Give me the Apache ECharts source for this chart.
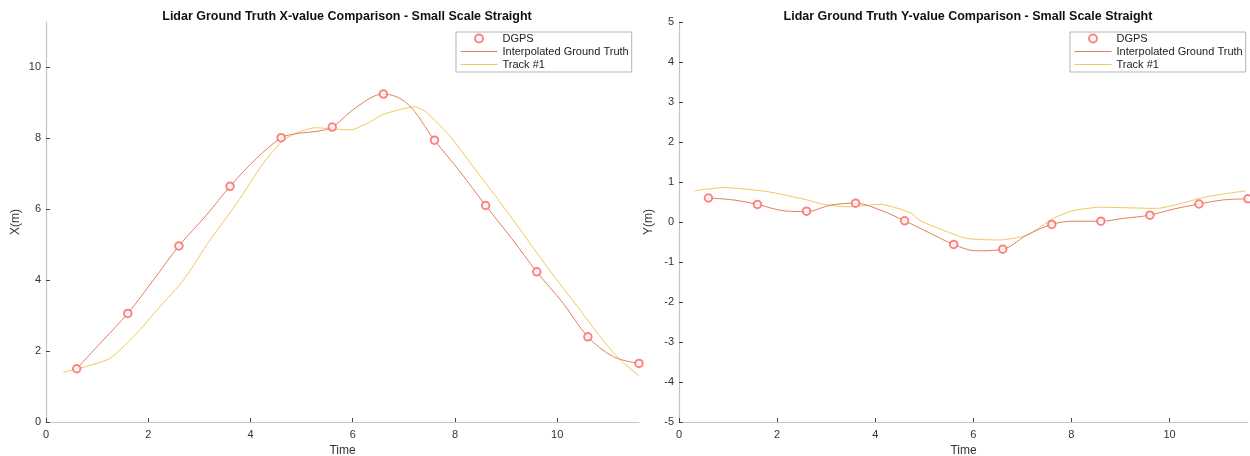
<!DOCTYPE html>
<html>
<head>
<meta charset="utf-8">
<script src="https://cdn.jsdelivr.net/npm/echarts@6/dist/echarts.min.js"></script>
<style>
html,body{margin:0;padding:0;background:#fff;}
#c{width:1250px;height:456px;}
</style>
</head>
<body>
<div id="c"></div>
<script>
// ---- data ----
const titleX = 'Lidar Ground Truth X-value Comparison - Small Scale Straight';
const titleY = 'Lidar Ground Truth Y-value Comparison - Small Scale Straight';
const seriesNames = ['DGPS', 'Interpolated Ground Truth', 'Track #1'];

const dgpsTime = [0.6, 1.6, 2.6, 3.6, 4.6, 5.6, 6.6, 7.6, 8.6, 9.6, 10.6, 11.6];
const dgpsX = [1.50, 3.06, 4.96, 6.64, 8.01, 8.31, 9.24, 7.94, 6.10, 4.23, 2.40, 1.65];
const dgpsY = [0.60, 0.44, 0.27, 0.47, 0.03, -0.56, -0.68, -0.06, 0.02, 0.17, 0.45, 0.58];

const interpXTime = [0.6, 1.12, 1.6, 2.1, 2.6, 3.14, 3.6, 4.12, 4.6, 4.8, 4.97, 5.3, 5.6, 6.08, 6.6, 7.06, 7.6, 8.1, 8.6, 9.11, 9.6, 10.12, 10.6, 11.1, 11.6];
const interpXVal  = [1.50, 2.31, 3.06, 4.0, 4.96, 5.83, 6.64, 7.43, 8.01, 8.10, 8.14, 8.19, 8.31, 8.88, 9.24, 8.98, 7.94, 7.05, 6.10, 5.17, 4.23, 3.34, 2.40, 1.84, 1.65];

const interpYTime = [0.6, 1.12, 1.6, 2.14, 2.6, 3.09, 3.6, 4.1, 4.6, 5.12, 5.6, 6.07, 6.6, 7.09, 7.6, 8.03, 8.6, 9.05, 9.6, 10.07, 10.6, 11.08, 11.6];
const interpYVal  = [0.60, 0.55, 0.44, 0.28, 0.26, 0.42, 0.47, 0.30, 0.03, -0.28, -0.56, -0.72, -0.68, -0.33, -0.06, 0.02, 0.02, 0.09, 0.17, 0.32, 0.45, 0.55, 0.58];

const trackXTime = [0.34, 0.8, 1.25, 1.71, 2.23, 2.69, 3.21, 3.73, 4.25, 4.64, 4.97, 5.26, 5.95, 6.28, 6.60, 7.22, 7.45, 7.91, 8.36, 8.88, 9.28, 9.80, 10.45, 10.84, 11.23, 11.6];
const trackXVal  = [1.40, 1.57, 1.79, 2.40, 3.25, 4.0, 5.13, 6.16, 7.29, 7.94, 8.18, 8.29, 8.23, 8.41, 8.67, 8.88, 8.72, 8.04, 7.19, 6.20, 5.41, 4.37, 3.15, 2.40, 1.75, 1.30];

const trackYTime = [0.31, 0.92, 1.80, 2.62, 2.95, 3.43, 4.11, 4.72, 4.92, 5.33, 5.87, 6.54, 7.09, 7.63, 8.03, 8.58, 9.73, 10.75, 11.56];
const trackYVal  = [0.78, 0.86, 0.76, 0.55, 0.44, 0.38, 0.44, 0.23, 0.03, -0.18, -0.41, -0.45, -0.33, 0.09, 0.28, 0.37, 0.34, 0.63, 0.78];

const timeTicks = [0, 2, 4, 6, 8, 10];
const xValTicks = [0, 2, 4, 6, 8, 10];
const yValTicks = [-5, -4, -3, -2, -1, 0, 1, 2, 3, 4, 5];

// ---- build ----
const zip = (a, b) => a.map((v, i) => [v, b[i]]);
const FONT = 'Liberation Sans, Arial, sans-serif';
const C_DGPS = '#ff6464', C_INT = '#e2805c', C_TRK = '#f3c660';
const HIDE = {color: 'rgba(0,0,0,0)', borderColor: 'rgba(0,0,0,0)', borderWidth: 0, opacity: 0};

function xAxis(gi) {
  return {
    type: 'value', gridIndex: gi, min: 0, max: 11.6,
    name: 'Time', nameLocation: 'middle', nameGap: 21,
    nameTextStyle: {fontFamily: FONT, fontSize: 12, color: '#333'},
    axisLine: {onZero: false, lineStyle: {color: '#c4c4c4', width: 1.2}},
    axisTick: {inside: true, length: 4, lineStyle: {color: '#444'}, customValues: timeTicks},
    axisLabel: {fontFamily: FONT, fontSize: 11, color: '#333', margin: 7, customValues: timeTicks},
    splitLine: {show: false}
  };
}
function yAxis(gi, min, max, ticks, name) {
  return {
    type: 'value', gridIndex: gi, min: min, max: max,
    name: name, nameLocation: 'middle', nameGap: 24, nameRotate: 90,
    nameTextStyle: {fontFamily: FONT, fontSize: 12, color: '#333'},
    axisLine: {show: true, onZero: false, lineStyle: {color: '#c4c4c4', width: 1.2}},
    axisTick: {show: true, inside: true, length: 4, lineStyle: {color: '#444'}, customValues: ticks},
    axisLabel: {fontFamily: FONT, fontSize: 11, color: '#333', margin: 5, customValues: ticks},
    splitLine: {show: false}
  };
}
function legend(left) {
  return {
    left: left, top: 32, orient: 'vertical',
    data: [
      {name: seriesNames[0], icon: 'emptyCircle'},
      {name: seriesNames[1], itemStyle: HIDE, lineStyle: {color: C_INT, width: 1}},
      {name: seriesNames[2], itemStyle: HIDE, lineStyle: {color: C_TRK, width: 1}}
    ],
    itemWidth: 37, itemHeight: 8, itemGap: 2,
    padding: [1, 3, 2, 4],
    backgroundColor: '#fff', borderColor: '#b5b5b5', borderWidth: 1, borderRadius: 0,
    textStyle: {fontFamily: FONT, fontSize: 11, color: '#222', lineHeight: 10},
    selectedMode: false
  };
}
function seriesFor(gi, dT, dV, iT, iV, tT, tV) {
  return [
    {name: seriesNames[0], type: 'scatter', xAxisIndex: gi, yAxisIndex: gi, data: zip(dT, dV),
     symbol: 'emptyCircle', symbolSize: 7.5, z: 5,
     itemStyle: {color: C_DGPS, borderColor: C_DGPS, borderWidth: 0.75}},
    {name: seriesNames[1], type: 'line', xAxisIndex: gi, yAxisIndex: gi, data: zip(iT, iV),
     symbol: 'none', smooth: 0.35, z: 4,
     lineStyle: {color: C_INT, width: 1}, itemStyle: {color: C_INT}},
    {name: seriesNames[2], type: 'line', xAxisIndex: gi, yAxisIndex: gi, data: zip(tT, tV),
     symbol: 'none', smooth: 0.2, z: 3,
     lineStyle: {color: C_TRK, width: 1}, itemStyle: {color: C_TRK}}
  ];
}

const chart = echarts.init(document.getElementById('c'), null, {renderer: 'canvas'});
chart.setOption({
  animation: false,
  backgroundColor: '#fff',
  title: [
    {text: titleX, left: 342, top: 5, textAlign: 'center',
     textStyle: {fontFamily: FONT, fontSize: 12.5, fontWeight: 'bold', color: '#111'}},
    {text: titleY, left: 963, top: 5, textAlign: 'center',
     textStyle: {fontFamily: FONT, fontSize: 12.5, fontWeight: 'bold', color: '#111'}}
  ],
  legend: [legend(456), legend(1070)],
  grid: [
    {left: 46, right: 611, top: 22, bottom: 34, containLabel: false, outerBoundsMode: 'none'},
    {left: 679, right: 2, top: 22, bottom: 34, containLabel: false, outerBoundsMode: 'none'}
  ],
  xAxis: [xAxis(0), xAxis(1)],
  yAxis: [yAxis(0, 0, 11.27, xValTicks, 'X(m)'), yAxis(1, -5, 5, yValTicks, 'Y(m)')],
  series: [].concat(
    seriesFor(0, dgpsTime, dgpsX, interpXTime, interpXVal, trackXTime, trackXVal),
    seriesFor(1, dgpsTime, dgpsY, interpYTime, interpYVal, trackYTime, trackYVal)
  )
});
</script>
</body>
</html>
